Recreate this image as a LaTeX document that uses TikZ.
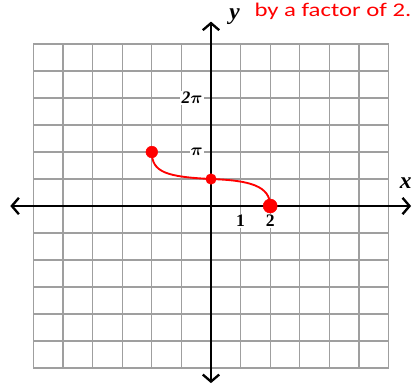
\documentclass[tikz,border=0pt]{standalone}
\usepackage{amsmath}
\usepackage{graphicx}
\usepackage{fontspec}
\setmainfont{Liberation Serif}
\newfontfamily\notefont{Carlito}
\usetikzlibrary{arrows.meta}

\begin{document}
\begin{tikzpicture}[x=0.888cm, y=0.81cm,
        gridline/.style={draw=gray!75, line width=1.1pt},
        axisline/.style={draw=black, line width=2.3pt,
          {Straight Barb[length=6pt,width=14pt,line width=2pt]}-{Straight Barb[length=6pt,width=14pt,line width=2pt]}},
        ticklbl/.style={font=\bfseries\fontsize{15}{15}\selectfont, fill=white, inner sep=1pt},
        axislbl/.style={font=\bfseries\itshape\fontsize{20}{20}\selectfont, inner sep=0pt},
        dot/.style={circle, fill=red, draw=red, inner sep=0pt, minimum size=#1},
        graphline/.style={draw=red, line width=1.6pt}
      ]
      \useasboundingbox (-7.128,-6.74) rectangle (6.858,7.63);
      % grid and axes
      \foreach \k in {-6,...,6} {
        \draw[gridline] (\k,-6) -- (\k,6);
        \draw[gridline] (-6,\k) -- (6,\k);
      }
      \coordinate (xleft) at (-6.78,0);
      \coordinate (xright) at (6.76,0);
      \coordinate (ybottom) at (0,-6.56);
      \coordinate (ytop) at (0,6.83);
      \draw[axisline] (xleft) -- (xright);
      \draw[axisline] (ybottom) -- (ytop);
      \node[axislbl] (xlbl) at (6.58,0.85) {x};
      \node[axislbl] (ylbl) at (0.8,7.02) {y};
      % tick labels
      \node[ticklbl] (pilbl) at (-0.48,2) {$\boldsymbol{\pi}$};
      \node[ticklbl] (twopilbl) at (-0.64,4) {\textbf{\textit{2}}$\boldsymbol{\pi}$};
      \foreach \v in {1,2} {
        \node[ticklbl] (xt\v) at (\v,-0.55) {\v};
      }
      % graph
      \node[dot=10pt] (pa) at (-2,2) {};
      \node[dot=9pt] (pb) at (0,1) {};
      \node[dot=12pt] (pc) at (2,0) {};
      \draw[graphline] (pa.center) .. controls (-2,1.25) and (-1.5,1.08) .. (pb.center)
        .. controls (1.3,0.95) and (2,0.75) .. (pc.center);
      \node[text=red, inner sep=0pt] (note) at (4.12,7.2)
        {\notefont\fontsize{16.5}{16.5}\selectfont\scalebox{1.28}[1]{by a factor of 2.}};
    \end{tikzpicture}
\end{document}
